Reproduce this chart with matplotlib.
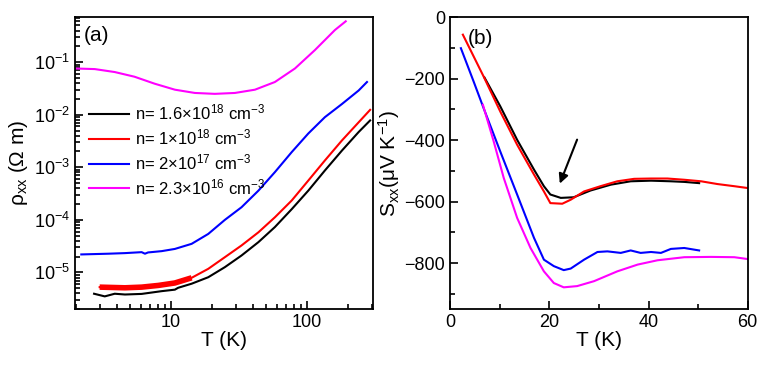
import numpy as np
import matplotlib
matplotlib.use('Agg')
import matplotlib.pyplot as plt
from matplotlib.ticker import LogLocator, NullFormatter, MultipleLocator, FixedLocator, FixedFormatter

plt.rcParams['font.family'] = ['Liberation Sans', 'DejaVu Sans']
plt.rcParams['mathtext.fontset'] = 'custom'
plt.rcParams['mathtext.rm'] = 'Liberation Sans'
plt.rcParams['mathtext.it'] = 'Liberation Sans:italic'
plt.rcParams['mathtext.default'] = 'regular'

# (a) resistivity vs T
T_blk_a = [2.73, 3.27, 3.87, 4.6, 6.1, 8.55, 10.7, 11.3, 14.2, 18.8, 24.9, 33, 43.9, 58, 77.1, 102, 135, 180, 239, 290]
rho_blk = [3.93e-6, 3.5e-6, 3.93e-6, 3.8e-6, 3.9e-6, 4.4e-6, 4.7e-6, 5.1e-6, 6.1e-6, 8.1e-6, 1.26e-5, 2.1e-5,
           3.77e-5, 7.3e-5, 1.6e-4, 3.6e-4, 8.7e-4, 2.08e-3, 4.7e-3, 7.8e-3]
T_red_a = [3.0, 4.6, 6.1, 8.1, 10.7, 14.2, 18.8, 24.9, 33, 43.9, 58, 77.1, 102, 135, 180, 239, 290]
rho_red = [5.25e-6, 5.1e-6, 5.25e-6, 5.66e-6, 6.3e-6, 7.9e-6, 1.17e-5, 1.95e-5, 3.26e-5, 5.8e-5, 1.12e-4,
           2.34e-4, 5.6e-4, 1.35e-3, 3.24e-3, 7.2e-3, 1.24e-2]
T_blu_a = [2.2, 3.46, 4.6, 6.1, 6.45, 6.8, 8.55, 10.7, 14.2, 18.8, 24.9, 33, 43.9, 58, 77.1, 102, 135, 180, 239, 275]
rho_blu = [2.2e-5, 2.27e-5, 2.33e-5, 2.43e-5, 2.27e-5, 2.4e-5, 2.54e-5, 2.8e-5, 3.5e-5, 5.4e-5, 1e-4, 1.74e-4,
           3.6e-4, 8.1e-4, 1.95e-3, 4.4e-3, 9e-3, 1.6e-2, 2.9e-2, 4.2e-2]
T_mag_a = [1.97, 2.76, 3.87, 5.4, 7.6, 10.7, 15, 21, 29.5, 41.4, 58, 81.4, 114, 160, 192]
rho_mag = [0.076, 0.074, 0.065, 0.053, 0.039, 0.030, 0.026, 0.025, 0.026, 0.030, 0.042, 0.076, 0.17, 0.41, 0.60]

# (b) thermopower vs T
T_blk_b = [6.9, 10.1, 13.5, 16.9, 18.9, 20.2, 22.3, 24.9, 28.3, 32.4, 36.4, 40.5, 44.5, 47.2, 50.2]
S_blk = [-196, -290, -399, -496, -550, -577, -588, -586, -564, -545, -534, -532, -534, -536, -540]
T_red_b = [2.56, 6.74, 10.1, 13.5, 16.9, 18.9, 20.2, 22.6, 24.3, 27, 30.3, 33.7, 37.1, 40.5, 43.8, 47.2,
           50.6, 53.9, 57.3, 60]
S_red = [-57, -193, -307, -415, -512, -567, -605, -607, -594, -567, -550, -534, -526, -525, -525, -529,
         -534, -543, -550, -556]
T_blu_b = [2.16, 4.72, 6.74, 10.1, 13.5, 16.9, 18.9, 20.9, 22.9, 24.3, 27, 29.7, 31.7, 34.4, 36.4, 38.4,
           40.5, 42.5, 44.5, 47.2, 50.2]
S_blu = [-101, -209, -296, -437, -577, -718, -789, -810, -823, -818, -789, -764, -762, -767, -759, -767,
         -764, -767, -754, -751, -759]
T_mag_b = [6.6, 8.77, 10.8, 13.5, 16.2, 18.9, 20.9, 22.9, 25.6, 29, 33.7, 37.8, 41.8, 47.2, 52.6, 57.3, 60]
S_mag = [-285, -404, -523, -653, -751, -827, -865, -879, -875, -859, -827, -805, -791, -781, -780, -781, -787]

labels = [r'n= 1.6$\times$10$^{18}$ cm$^{-3}$', r'n= 1$\times$10$^{18}$ cm$^{-3}$',
          r'n= 2$\times$10$^{17}$ cm$^{-3}$', r'n= 2.3$\times$10$^{16}$ cm$^{-3}$']
colors = ['black', 'red', 'blue', 'magenta']

fig = plt.figure(figsize=(7.63, 3.65), dpi=100)
ax1 = fig.add_axes([0.098, 0.153, 0.391, 0.800])
ax2 = fig.add_axes([0.590, 0.153, 0.390, 0.800])

lw = 1.5
ax1.plot(T_blk_a, rho_blk, color=colors[0], lw=lw, label=labels[0])
ax1.plot(T_red_a, rho_red, color=colors[1], lw=lw, label=labels[1])
ax1.plot(T_red_a[:6], rho_red[:6], color=colors[1], lw=4, solid_capstyle='butt')
ax1.plot(T_blu_a, rho_blu, color=colors[2], lw=lw, label=labels[2])
ax1.plot(T_mag_a, rho_mag, color=colors[3], lw=lw, label=labels[3])
ax1.set_xscale('log')
ax1.set_yscale('log')
ax1.xaxis.set_major_locator(FixedLocator([10, 100]))
ax1.xaxis.set_major_formatter(FixedFormatter(['10', '100']))
ax1.xaxis.set_minor_locator(LogLocator(base=10, subs=np.arange(2, 10), numticks=20))
ax1.xaxis.set_minor_formatter(NullFormatter())
ax1.set_yticks([1e-5, 1e-4, 1e-3, 1e-2, 1e-1])
ax1.yaxis.set_minor_locator(LogLocator(base=10, subs=np.arange(2, 10), numticks=20))
ax1.yaxis.set_minor_formatter(NullFormatter())
ax1.set_xlim(1.97, 305)
ax1.set_ylim(2e-6, 0.72)
ax1.set_xlabel('T (K)', fontsize=15, labelpad=0)
ax1.set_ylabel('ρ$_{xx}$ (Ω m)', fontsize=15, labelpad=3)
ax1.text(0.03, 0.97, '(a)', transform=ax1.transAxes, fontsize=15, va='top')
ax1.legend(loc='upper left', bbox_to_anchor=(0.025, 0.73), frameon=False, fontsize=12,
           handlelength=2.4, handletextpad=0.35, labelspacing=0.3, borderaxespad=0.0, borderpad=0.4)

ax2.plot(T_blk_b, S_blk, color=colors[0], lw=lw)
ax2.plot(T_red_b, S_red, color=colors[1], lw=lw)
ax2.plot(T_blu_b, S_blu, color=colors[2], lw=lw)
ax2.plot(T_mag_b, S_mag, color=colors[3], lw=lw)
ax2.set_xlim(0, 60)
ax2.set_ylim(-950, 0)
ax2.xaxis.set_major_locator(MultipleLocator(20))
ax2.xaxis.set_minor_locator(MultipleLocator(10))
ax2.yaxis.set_major_locator(MultipleLocator(200))
ax2.yaxis.set_minor_locator(MultipleLocator(100))
ax2.set_xlabel('T (K)', fontsize=15, labelpad=0)
ax2.set_ylabel(r'S$_{xx}$($\mu$V K$^{-1}$)', fontsize=15, labelpad=2)
ax2.text(0.06, 0.96, '(b)', transform=ax2.transAxes, fontsize=15, va='top')
ax2.annotate('', xy=(21.9, -550), xytext=(25.8, -390),
             arrowprops=dict(arrowstyle='-|>', color='black', lw=1.5, mutation_scale=14))

for ax in (ax1, ax2):
    ax.tick_params(which='both', direction='in', top=False, right=False, labelsize=13, width=1.2)
    ax.tick_params(which='major', length=6)
    ax.tick_params(which='minor', length=3.5)
    for s in ax.spines.values():
        s.set_linewidth(1.3)

fig.savefig('out.png', dpi=100)
